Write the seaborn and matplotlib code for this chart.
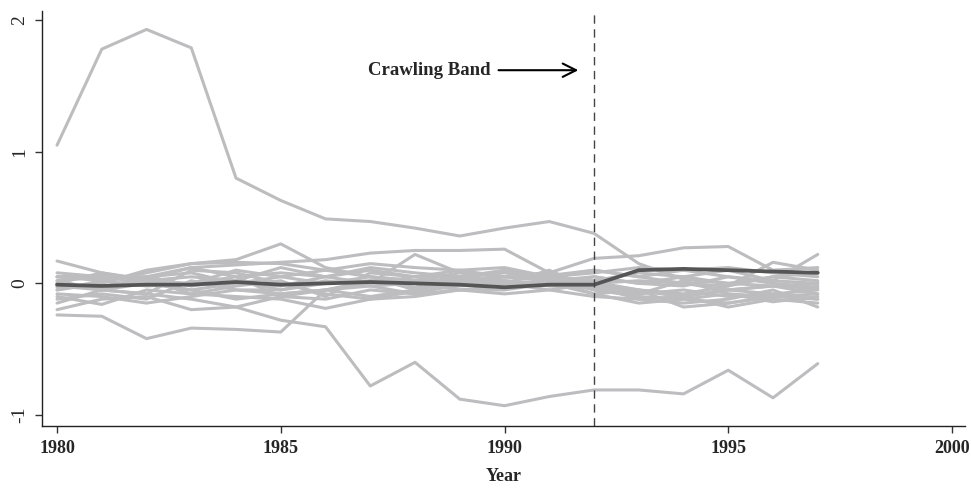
import pandas as pd
import matplotlib.pyplot as plt
import seaborn as sns

# years shown for every country series
years = list(range(1980, 1998))

# grey country series (1980 .. 1997)
countries = {
    'c01': [1.05, 1.78, 1.93, 1.79, 0.80, 0.63, 0.49, 0.47, 0.42, 0.36, 0.42, 0.47, 0.38, 0.15, 0.03, 0.00, -0.02, -0.04],
    'c02': [0.02, -0.05, -0.08, -0.12, -0.18, -0.28, -0.33, -0.78, -0.60, -0.88, -0.93, -0.86, -0.81, -0.81, -0.84, -0.66, -0.87, -0.61],
    'c03': [-0.24, -0.25, -0.42, -0.34, -0.35, -0.37, -0.05, 0.02, -0.03, 0.05, 0.08, 0.03, -0.05, -0.10, -0.12, -0.08, -0.14, -0.10],
    'c04': [-0.05, 0.02, 0.08, 0.15, 0.18, 0.30, 0.12, 0.05, 0.02, 0.08, 0.05, 0.03, 0.01, -0.05, -0.08, -0.02, 0.05, 0.02],
    'c05': [0.17, 0.08, 0.03, 0.12, 0.14, 0.16, 0.18, 0.23, 0.25, 0.25, 0.26, 0.08, 0.19, 0.21, 0.27, 0.28, 0.10, 0.12],
    'c06': [0.05, 0.06, 0.02, 0.00, 0.05, 0.08, 0.05, 0.12, 0.08, 0.05, 0.10, 0.05, 0.08, 0.12, 0.10, 0.05, 0.02, 0.22],
    'c07': [-0.20, -0.12, -0.10, -0.20, -0.18, -0.10, -0.12, -0.05, -0.08, 0.00, 0.05, 0.02, 0.00, -0.05, -0.18, -0.15, -0.10, -0.12],
    'c08': [-0.10, -0.16, -0.05, -0.08, -0.10, -0.12, -0.19, -0.12, -0.06, -0.02, 0.00, -0.05, -0.10, -0.12, -0.10, -0.18, -0.12, -0.15],
    'c09': [0.00, -0.05, 0.05, 0.12, 0.05, -0.10, -0.05, 0.00, 0.22, 0.08, 0.05, 0.06, 0.10, 0.05, 0.00, -0.02, 0.16, 0.10],
    'c10': [-0.05, 0.00, 0.10, 0.15, 0.16, 0.15, 0.10, 0.15, 0.12, 0.10, 0.12, 0.05, 0.10, 0.05, 0.10, 0.12, 0.08, 0.05],
    'c11': [0.08, 0.05, 0.00, -0.05, 0.00, 0.05, 0.10, 0.05, 0.02, 0.00, -0.02, 0.03, -0.08, -0.05, -0.10, -0.05, -0.02, -0.08],
    'c12': [-0.12, -0.08, -0.12, 0.02, -0.05, -0.05, 0.02, -0.02, 0.00, -0.05, -0.08, -0.05, 0.00, -0.08, -0.05, -0.10, -0.08, -0.05],
    'c13': [0.05, 0.02, -0.02, 0.00, 0.10, 0.05, 0.00, 0.05, -0.05, 0.02, 0.05, 0.08, -0.02, -0.12, -0.15, -0.12, -0.05, -0.18],
    'c14': [-0.08, -0.10, -0.15, -0.10, -0.05, -0.08, -0.05, -0.10, -0.05, 0.03, 0.10, 0.02, 0.05, 0.00, -0.02, 0.05, 0.00, -0.03],
    'c15': [0.02, 0.05, 0.05, -0.02, 0.02, 0.12, 0.05, 0.10, 0.05, 0.05, 0.00, 0.10, -0.05, -0.08, 0.02, -0.08, -0.10, -0.02],
    'c16': [-0.02, -0.05, -0.08, 0.10, 0.08, 0.00, -0.08, -0.12, -0.10, -0.05, -0.02, 0.00, 0.05, 0.00, 0.05, 0.00, 0.05, 0.08],
    'c17': [0.05, 0.03, 0.05, 0.08, 0.00, -0.02, 0.05, 0.00, 0.05, 0.10, 0.05, 0.05, 0.02, 0.08, 0.05, 0.10, 0.02, 0.00],
    'c18': [-0.15, -0.05, 0.00, -0.05, -0.12, -0.08, -0.05, -0.02, -0.08, -0.05, -0.05, 0.00, -0.08, -0.15, -0.12, -0.15, -0.10, -0.08],
    'c19': [0.00, 0.08, 0.02, 0.05, 0.02, -0.05, 0.00, 0.02, 0.00, 0.05, 0.02, 0.00, 0.00, 0.02, 0.00, -0.05, -0.02, 0.00],
    'c20': [-0.03, -0.02, 0.03, -0.08, -0.02, 0.02, -0.10, 0.08, 0.05, 0.00, 0.02, -0.02, -0.03, -0.06, -0.10, -0.05, -0.08, -0.12],
}

# dark average line
average = [-0.01, -0.02, -0.01, -0.01, 0.01, -0.01, 0.00, 0.01, 0.00, -0.01,
           -0.03, -0.01, -0.01, 0.10, 0.11, 0.10, 0.09, 0.08]

band_year = 1992
xticks = [1980, 1985, 1990, 1995, 2000]
yticks = [-1, 0, 1, 2]

rows = []
for name, vals in countries.items():
    for yr, v in zip(years, vals):
        rows.append({'country': name, 'year': yr, 'value': v})
df = pd.DataFrame(rows)
avg_df = pd.DataFrame({'year': years, 'value': average})

sns.set_style("ticks")
plt.rcParams['font.family'] = ['Liberation Serif', 'DejaVu Serif']

fig = plt.figure(figsize=(9.71, 4.91), dpi=100)
ax = fig.add_axes([0.0433, 0.1324, 0.9505, 0.8452])

sns.lineplot(data=df, x='year', y='value', units='country', estimator=None,
             color='#bdbdc0', linewidth=2.2, ax=ax, legend=False)
sns.lineplot(data=avg_df, x='year', y='value', color='#555555',
             linewidth=2.7, ax=ax, legend=False)

ax.axvline(band_year, color='#444444', linestyle=(0, (6, 4)), linewidth=1.0)
ax.annotate('Crawling Band', xy=(1991.65, 1.62), xytext=(1989.7, 1.62),
            ha='right', va='center', fontsize=13.5, fontweight='bold',
            arrowprops=dict(arrowstyle='->', color='black', lw=1.5,
                            shrinkA=3, shrinkB=0, mutation_scale=24))

ax.set_xlim(1979.665, 2000.29)
ax.set_ylim(-1.084, 2.07)
ax.set_xticks(xticks)
ax.set_yticks(yticks)
ax.set_xticklabels([str(t) for t in xticks], fontsize=13, fontweight='bold')
ax.set_yticklabels([str(t) for t in yticks], fontsize=14, rotation=90, va='center')
ax.tick_params(axis='both', length=5, width=1, color='#333333', pad=5)
ax.set_xlabel('Year', fontsize=13, fontweight='bold', labelpad=8)
ax.set_ylabel('')
sns.despine(ax=ax)
for s in ['left', 'bottom']:
    ax.spines[s].set_color('#222222')
    ax.spines[s].set_linewidth(1.0)

fig.savefig('out.png', dpi=100)
